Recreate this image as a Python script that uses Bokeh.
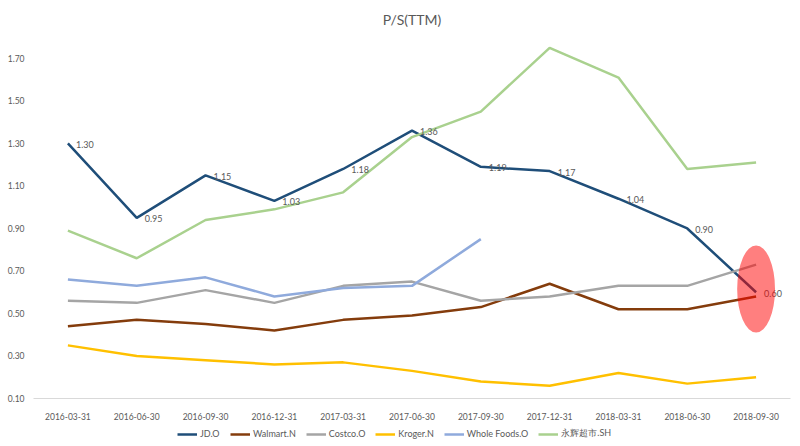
from bokeh.core.properties import value
from bokeh.embed import file_html
from bokeh.layouts import column
from bokeh.models import FixedTicker, Legend, LegendItem, NumeralTickFormatter, Range1d
from bokeh.plotting import figure
from bokeh.resources import INLINE

dates = ["2016-03-31", "2016-06-30", "2016-09-30", "2016-12-31", "2017-03-31", "2017-06-30",
         "2017-09-30", "2017-12-31", "2018-03-31", "2018-06-30", "2018-09-30"]

jd = [1.30, 0.95, 1.15, 1.03, 1.18, 1.36, 1.19, 1.17, 1.04, 0.90, 0.60]
walmart = [0.44, 0.47, 0.45, 0.42, 0.47, 0.49, 0.53, 0.64, 0.52, 0.52, 0.58]
costco = [0.56, 0.55, 0.61, 0.55, 0.63, 0.65, 0.56, 0.58, 0.63, 0.63, 0.73]
kroger = [0.35, 0.30, 0.28, 0.26, 0.27, 0.23, 0.18, 0.16, 0.22, 0.17, 0.20]
whole_foods = [0.66, 0.63, 0.67, 0.58, 0.62, 0.63, 0.85]  # no data after 2017-09-30
yonghui = [0.89, 0.76, 0.94, 0.99, 1.07, 1.33, 1.45, 1.75, 1.61, 1.18, 1.21]

y_ticks = [0.10, 0.30, 0.50, 0.70, 0.90, 1.10, 1.30, 1.50, 1.70]

series = [
    ("JD.O", jd, "#1F4E79"),
    ("Walmart.N", walmart, "#843C0C"),
    ("Costco.O", costco, "#A5A5A5"),
    ("Kroger.N", kroger, "#FFC000"),
    ("Whole Foods.O", whole_foods, "#8FAADC"),
    ("永辉超市.SH", yonghui, "#A9D18E"),
]

FONT = "Lato"
GREY = "#595959"

p = figure(width=800, height=422, x_range=dates, y_range=Range1d(0.1, 1.808),
           output_backend="svg", toolbar_location=None,
           min_border_left=33, min_border_right=10, min_border_top=10, min_border_bottom=18)

p.title.text = "P/S(TTM)"
p.title.align = "center"
p.title.text_font = FONT
p.title.text_font_size = "14px"
p.title.text_font_style = "normal"
p.title.text_color = GREY
p.title.standoff = 16

p.outline_line_color = None
p.xgrid.grid_line_color = None
p.ygrid.grid_line_color = None

p.yaxis.ticker = FixedTicker(ticks=y_ticks)
p.yaxis.formatter = NumeralTickFormatter(format="0.00")
p.yaxis.axis_line_color = None
p.yaxis.major_tick_line_color = None
p.yaxis.minor_tick_line_color = None
p.yaxis.major_label_standoff = 3

p.xaxis.axis_line_color = "#D9D9D9"
p.xaxis.major_tick_line_color = None
p.xaxis.minor_tick_line_color = None
p.xaxis.major_label_standoff = 8

for ax in (p.xaxis, p.yaxis):
    ax.major_label_text_font = FONT
    ax.major_label_text_font_size = "8.5px"
    ax.major_label_text_color = GREY

for name, vals, color in series:
    p.line(dates[:len(vals)], vals, line_color=color, line_width=2.5)

# JD data labels
p.text(x=dates, y=jd, text=[f"{v:.2f}" for v in jd], x_offset=8, y_offset=1,
       text_baseline="middle", text_align="left", text_font=value(FONT),
       text_font_size="9px", text_color=GREY)

# highlight around the last JD point
p.ellipse(x=[dates[-1]], y=[0.615], width=0.55, height=0.41,
          fill_color="#FF0000", fill_alpha=0.5, line_color=None)

# legend strip below the chart (a legend in a side panel squashes the frame)
leg = figure(width=800, height=24, x_range=Range1d(0, 1), y_range=Range1d(0, 1),
             x_axis_type=None, y_axis_type=None, output_backend="svg",
             toolbar_location=None, min_border=0)
leg.outline_line_color = None
leg.xgrid.grid_line_color = None
leg.ygrid.grid_line_color = None

items = []
for name, vals, color in series:
    # invisible stand-in renderer, only used for the legend swatch
    r = leg.line(x=[float("nan")], y=[float("nan")], line_color=color, line_width=2.5)
    items.append(LegendItem(label=name, renderers=[r]))

legend = Legend(items=items, orientation="horizontal", location=(144, 6),
                border_line_color=None, background_fill_alpha=0,
                label_text_font=FONT, label_text_font_size="9px", label_text_color=GREY,
                glyph_width=20, glyph_height=10, label_height=10, label_standoff=3,
                spacing=10, padding=2, margin=0)
leg.add_layout(legend, "center")

open("out.html", "w").write(file_html(column(p, leg, spacing=0), INLINE))
